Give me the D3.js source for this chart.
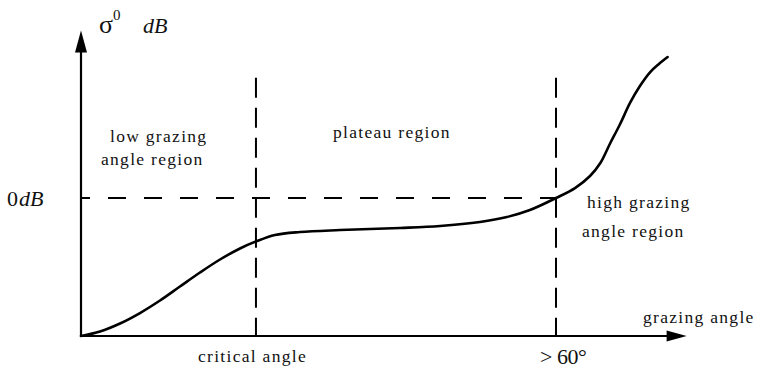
<!DOCTYPE html>
<html>
<head>
<meta charset="utf-8">
<script src="https://cdn.jsdelivr.net/npm/d3@7"></script>
<style>
  html, body { margin: 0; padding: 0; background: #fff; }
  svg { display: block; }
</style>
</head>
<body>
<svg id="chart" width="759" height="370"></svg>
<script>
// Grazing angle (degrees, schematic) and backscatter sigma0 (dB relative to 0 dB)
const angle = [0, 2.40, 4.93, 7.45, 9.98, 12.5, 15.03, 17.56, 20.08, 22.1, 24.5, 27.66, 32.72, 40.3, 45.35, 50.4, 53.8, 56.7, 60.0, 62.4, 64.3, 65.6, 66.8, 68.1, 69.35, 70.6, 71.9, 73.0, 74.1];
const sigma0 = [-14.0, -13.54, -12.73, -11.67, -10.40, -8.98, -7.56, -6.24, -5.12, -4.41, -3.75, -3.45, -3.25, -3.04, -2.84, -2.43, -1.93, -1.22, 0.0, 1.01, 2.23, 3.55, 5.48, 7.51, 9.64, 11.36, 12.78, 13.6, 14.3];

// Region boundaries and reference level
const criticalAngle = 22.1;
const highAngle = 60;
const refLevel = 0;
const axisExtent = { xMax: 76.5, yMin: -14, yMax: 17, guideTop: 12.2 };

const regionLabels = [
  { lines: ["low grazing", "angle region"], x: [110, 101], y: [142, 165] },
  { lines: ["plateau region"], x: [333], y: [138] },
  { lines: ["high grazing", "angle region"], x: [587, 582], y: [208, 237] }
];

const SERIF = "Liberation Serif";

const svg = d3.select("#chart");

const x = d3.scaleLinear().domain([0, highAngle]).range([81, 556]);
const y = d3.scaleLinear().domain([axisExtent.yMin, refLevel]).range([336, 198]);

const x0 = x(0), y0 = y(axisExtent.yMin);

// Axes with arrowheads
const axisG = svg.append("g").attr("stroke", "#000").attr("stroke-width", 2.2);
axisG.append("line")
  .attr("x1", x0).attr("y1", y0 + 1).attr("x2", x0).attr("y2", y(axisExtent.yMax) + 14);
axisG.append("line")
  .attr("x1", x0 - 1).attr("y1", y0).attr("x2", x(axisExtent.xMax) - 14).attr("y2", y0);

const yTip = y(axisExtent.yMax);
svg.append("path")
  .attr("d", `M${x0},${yTip} L${x0 - 6},${yTip + 22} L${x0 + 6},${yTip + 22} Z`)
  .attr("fill", "#000");
const xTip = x(axisExtent.xMax);
svg.append("path")
  .attr("d", `M${xTip},${y0} L${xTip - 20},${y0 - 5.5} L${xTip - 20},${y0 + 5.5} Z`)
  .attr("fill", "#000");

// Dashed guides
const guides = svg.append("g").attr("stroke", "#000").attr("stroke-width", 2).attr("fill", "none");
guides.append("line")
  .attr("x1", x0).attr("y1", y(refLevel)).attr("x2", x(highAngle)).attr("y2", y(refLevel))
  .attr("stroke-dasharray", "18,18").attr("stroke-dashoffset", 9);
[criticalAngle, highAngle].forEach(a => {
  guides.append("line")
    .attr("x1", x(a)).attr("y1", y(axisExtent.guideTop)).attr("x2", x(a)).attr("y2", y0)
    .attr("stroke-dasharray", "20,10");
});

// Sigma0 curve
const pts = angle.map((a, i) => [a, sigma0[i]]);
const line = d3.line()
  .x(d => x(d[0])).y(d => y(d[1]))
  .curve(d3.curveCatmullRom.alpha(0.5));
svg.append("path")
  .datum(pts)
  .attr("d", line)
  .attr("fill", "none")
  .attr("stroke", "#000")
  .attr("stroke-width", 2.6)
  .attr("stroke-linecap", "round");

// Text helpers
function label(xp, yp, txt) {
  return svg.append("text")
    .attr("x", xp).attr("y", yp)
    .style("font-family", SERIF)
    .style("font-size", "17.5px")
    .style("letter-spacing", "1.3px")
    .style("fill", "#111")
    .text(txt);
}
function bigText(xp, yp) {
  return svg.append("text")
    .attr("x", xp).attr("y", yp)
    .style("font-family", SERIF)
    .style("font-size", "22px")
    .style("fill", "#111");
}

// Axis titles
const yTitle = bigText(99, 33);
yTitle.append("tspan").text("σ").style("font-size", "26px");
yTitle.append("tspan").text("0").attr("dy", -13).style("font-size", "15px");
yTitle.append("tspan").text("dB").attr("x", 143).attr("dy", 13).style("font-style", "italic");

label(643, 323, "grazing angle");

// Reference level label
const refLbl = bigText(7, 206);
refLbl.append("tspan").text("0");
refLbl.append("tspan").text("dB").style("font-style", "italic").attr("dx", 1);

// Angle labels under the axis
label(x(criticalAngle) - 58, 362, "critical angle");
bigText(x(highAngle) - 16, 364).text("> 60°").style("letter-spacing", "-0.5px");

// Region labels
regionLabels.forEach(r => {
  r.lines.forEach((t, i) => label(r.x[i], r.y[i], t));
});
</script>
</body>
</html>
